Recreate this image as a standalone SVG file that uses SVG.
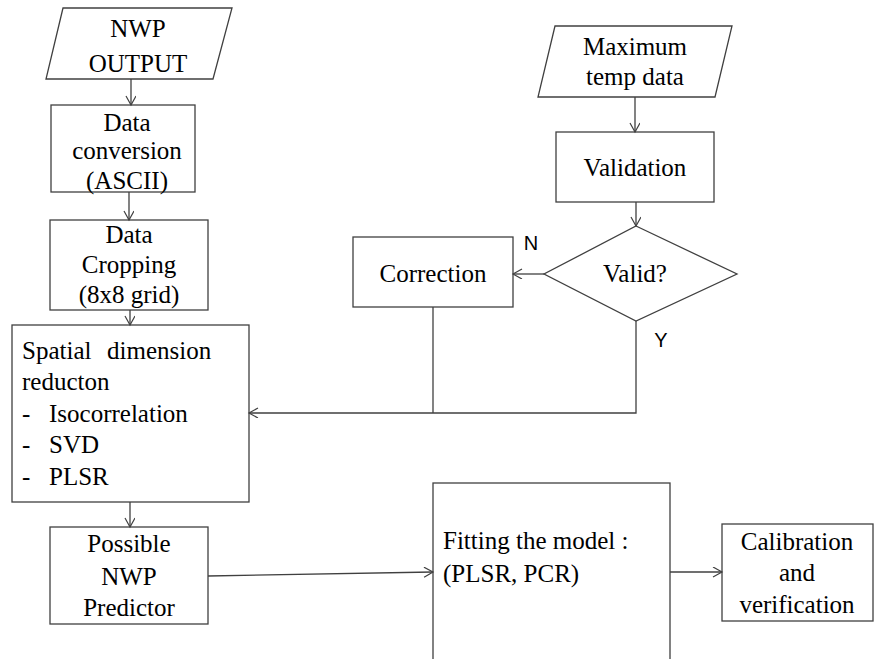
<svg xmlns="http://www.w3.org/2000/svg" width="874" height="659" viewBox="0 0 874 659">
<style>
.s{fill:#fff;stroke:#404040;stroke-width:1.3}
.t{font-family:"Liberation Serif","Times New Roman",serif;font-size:25px;fill:#000}
.m{text-anchor:middle}
.l{font-family:"Liberation Sans",Arial,sans-serif;font-size:20px;fill:#000;text-anchor:middle}
.c{fill:none;stroke:#404040;stroke-width:1.3}
</style>
<defs>
<marker id="ah" markerWidth="12" markerHeight="12" refX="10" refY="5" orient="auto" markerUnits="userSpaceOnUse">
<path d="M1,0 L10,5 L1,10" fill="none" stroke="#404040" stroke-width="1.2"/>
</marker>
</defs>
<rect width="874" height="659" fill="#fff"/>
<g id="nwp">
<polygon class="s" points="63,8 232,8 213,79 46,79"/>
<text class="t m" x="138" y="37">NWP</text>
<text class="t m" x="138" y="72">OUTPUT</text>
</g>
<g id="conversion">
<rect class="s" x="51" y="105" width="144" height="87"/>
<text class="t m" x="127" y="131">Data</text>
<text class="t m" x="127" y="159">conversion</text>
<text class="t m" x="127" y="189">(ASCII)</text>
</g>
<g id="cropping">
<rect class="s" x="50" y="220" width="158" height="90"/>
<text class="t m" x="129" y="243">Data</text>
<text class="t m" x="129" y="273">Cropping</text>
<text class="t m" x="129" y="303">(8x8 grid)</text>
</g>
<g id="spatial">
<rect class="s" x="12" y="325" width="237" height="177"/>
<text class="t" x="22" y="359">Spatial</text>
<text class="t" x="107" y="359">dimension</text>
<text class="t" x="22" y="390">reducton</text>
<text class="t" x="22" y="422">-</text>
<text class="t" x="49" y="422">Isocorrelation</text>
<text class="t" x="22" y="453">-</text>
<text class="t" x="49" y="453">SVD</text>
<text class="t" x="22" y="485">-</text>
<text class="t" x="49" y="485">PLSR</text>
</g>
<g id="possible">
<rect class="s" x="50" y="527" width="158" height="97"/>
<text class="t m" x="129" y="552">Possible</text>
<text class="t m" x="129" y="585">NWP</text>
<text class="t m" x="129" y="616">Predictor</text>
</g>
<g id="fitting">
<rect class="s" x="433" y="483" width="237" height="220"/>
<text class="t" x="443" y="549">Fitting the model :</text>
<text class="t" x="443" y="582">(PLSR, PCR)</text>
</g>
<g id="calibration">
<rect class="s" x="722" y="524" width="151" height="97"/>
<text class="t m" x="797" y="550">Calibration</text>
<text class="t m" x="797" y="581">and</text>
<text class="t m" x="797" y="613">verification</text>
</g>
<g id="maximum">
<polygon class="s" points="555,26 732,26 715,97 538,97"/>
<text class="t m" x="635" y="55">Maximum</text>
<text class="t m" x="635" y="85">temp data</text>
</g>
<g id="validation">
<rect class="s" x="556" y="132" width="158" height="70"/>
<text class="t m" x="635" y="176">Validation</text>
</g>
<g id="valid">
<polygon class="s" points="636,226 737,274 636,321 544,274"/>
<text class="t m" x="635" y="282">Valid?</text>
</g>
<g id="correction">
<rect class="s" x="353" y="237" width="160" height="70"/>
<text class="t m" x="433" y="282">Correction</text>
</g>
<g id="connectors">
<line class="c" x1="131" y1="79" x2="131" y2="105" marker-end="url(#ah)"/>
<line class="c" x1="129" y1="192" x2="129" y2="220" marker-end="url(#ah)"/>
<line class="c" x1="130" y1="310" x2="130" y2="325" marker-end="url(#ah)"/>
<line class="c" x1="130" y1="502" x2="130" y2="527" marker-end="url(#ah)"/>
<line class="c" x1="208" y1="576" x2="433" y2="572" marker-end="url(#ah)"/>
<line class="c" x1="670" y1="572" x2="722" y2="572" marker-end="url(#ah)"/>
<line class="c" x1="635" y1="97" x2="635" y2="132" marker-end="url(#ah)"/>
<line class="c" x1="636" y1="202" x2="636" y2="226" marker-end="url(#ah)"/>
<line class="c" x1="544" y1="274" x2="513" y2="274" marker-end="url(#ah)"/>
<line class="c" x1="433" y1="307" x2="433" y2="413"/>
<polyline class="c" points="636,321 636,413 249,413" marker-end="url(#ah)"/>
<text class="l" x="531" y="250">N</text>
<text class="l" x="661" y="347">Y</text>
</g>
</svg>
